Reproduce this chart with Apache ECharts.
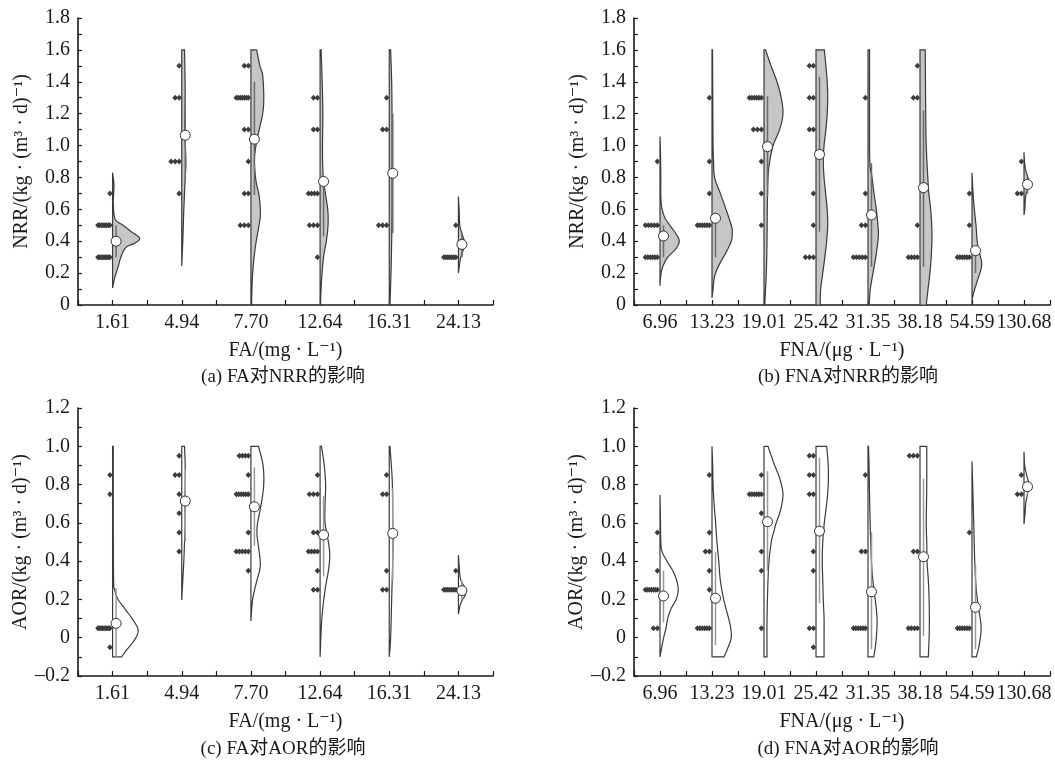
<!DOCTYPE html>
<html><head><meta charset="utf-8">
<script src="https://cdn.jsdelivr.net/npm/echarts@6/dist/echarts.min.js"></script>
<style>html,body{margin:0;padding:0;background:#fff}#c{width:1055px;height:763px}</style>
</head><body><div id="c"></div>
<script>
// ---------- categories ----------
const catsFA = ['1.61','4.94','7.70','12.64','16.31','24.13'];
const catsFNA = ['6.96','13.23','19.01','25.42','31.35','38.18','54.59','130.68'];

// ---------- panel (a): FA vs NRR ----------
// points: [category index, value, number of samples]
const ptsA = [[0,0.7,1],[0,0.5,8],[0,0.3,9],
  [1,1.5,1],[1,1.3,2],[1,0.9,3],[1,0.7,1],
  [2,1.5,2],[2,1.3,7],[2,1.1,2],[2,0.9,1],[2,0.7,2],[2,0.5,3],
  [3,1.3,2],[3,1.1,2],[3,0.7,4],[3,0.5,3],[3,0.3,1],
  [4,1.3,1],[4,1.1,2],[4,0.5,3],
  [5,0.5,1],[5,0.3,7]];
const meanA = [0.40, 1.065, 1.04, 0.775, 0.826, 0.38];
const rangeA = [[0.3,0.5],[0.8,1.3],[0.69,1.4],[0.43,0.74],[0.45,1.2],[0.3,0.45]];
// violin profiles: [value, half-width in category units], top to bottom
const violinA = [
  [[0.83,0],[0.75,0.02],[0.65,0.01],[0.57,0.02],[0.53,0.05],[0.5,0.15],[0.46,0.27],[0.42,0.39],[0.39,0.33],[0.36,0.19],[0.3,0.12],[0.24,0.08],[0.17,0.03],[0.107,0]],
  [[1.6,0.04],[1.5,0.045],[1.3,0.05],[1.1,0.045],[0.9,0.06],[0.8,0.05],[0.6,0.03],[0.4,0.015],[0.245,0]],
  [[1.6,0.083],[1.5,0.13],[1.44,0.17],[1.3,0.186],[1.2,0.17],[1.1,0.12],[1.0,0.073],[0.9,0.05],[0.78,0.073],[0.68,0.12],[0.57,0.137],[0.49,0.113],[0.36,0.063],[0.2,0.025],[0,0.008]],
  [[1.6,0.015],[1.4,0.03],[1.2,0.04],[1.0,0.035],[0.85,0.04],[0.75,0.06],[0.6,0.11],[0.5,0.115],[0.4,0.09],[0.3,0.05],[0.15,0.02],[0,0.005]],
  [[1.6,0.02],[1.4,0.035],[1.2,0.04],[1.0,0.04],[0.8,0.04],[0.6,0.04],[0.4,0.035],[0.2,0.025],[0,0.01]],
  [[0.68,0],[0.6,0.01],[0.5,0.02],[0.45,0.05],[0.4,0.085],[0.36,0.08],[0.32,0.05],[0.28,0.025],[0.2,0]]
];

// ---------- panel (b): FNA vs NRR ----------
const ptsB = [[0,0.9,1],[0,0.5,5],[0,0.3,6],
  [1,1.3,1],[1,0.9,1],[1,0.7,1],[1,0.5,6],
  [2,1.3,6],[2,1.1,3],[2,0.9,1],[2,0.7,1],[2,0.5,1],
  [3,1.5,2],[3,1.3,2],[3,1.1,2],[3,0.7,1],[3,0.5,1],[3,0.3,3],
  [4,1.3,1],[4,0.7,1],[4,0.5,2],[4,0.3,5],
  [5,1.5,1],[5,1.3,2],[5,0.5,1],[5,0.3,4],
  [6,0.7,1],[6,0.5,1],[6,0.3,6],
  [7,0.9,1],[7,0.7,2]];
const meanB = [0.433, 0.544, 0.993, 0.944, 0.565, 0.736, 0.341, 0.756];
const rangeB = [[0.3,0.5],[0.3,0.55],[0.68,1.31],[0.46,1.43],[0.24,0.89],[0.24,1.22],[0.2,0.33],[0.7,0.8]];
const violinB = [
  [[1.056,0],[0.95,0.01],[0.8,0.015],[0.7,0.015],[0.62,0.03],[0.55,0.09],[0.5,0.19],[0.45,0.3],[0.4,0.37],[0.35,0.3],[0.3,0.15],[0.25,0.065],[0.2,0.02],[0.121,0]],
  [[1.6,0.01],[1.3,0.015],[1.0,0.02],[0.9,0.03],[0.8,0.05],[0.7,0.16],[0.6,0.27],[0.5,0.37],[0.46,0.39],[0.4,0.37],[0.33,0.27],[0.25,0.135],[0.18,0.05],[0.1,0.02],[0.044,0]],
  [[1.6,0.03],[1.5,0.135],[1.4,0.25],[1.3,0.33],[1.2,0.365],[1.1,0.3],[1.0,0.175],[0.9,0.11],[0.8,0.077],[0.6,0.063],[0.4,0.058],[0.2,0.044],[0,0.013]],
  [[1.6,0.16],[1.5,0.19],[1.4,0.215],[1.3,0.225],[1.2,0.215],[1.1,0.19],[1.0,0.155],[0.9,0.14],[0.8,0.155],[0.7,0.185],[0.6,0.215],[0.5,0.225],[0.4,0.205],[0.3,0.17],[0.2,0.13],[0.1,0.09],[0,0.08]],
  [[1.6,0.03],[1.2,0.03],[0.9,0.035],[0.8,0.077],[0.7,0.115],[0.6,0.16],[0.5,0.19],[0.45,0.2],[0.4,0.19],[0.3,0.15],[0.2,0.095],[0.1,0.045],[0,0.02]],
  [[1.6,0.1],[1.4,0.105],[1.2,0.11],[1.0,0.12],[0.8,0.15],[0.7,0.17],[0.6,0.205],[0.45,0.23],[0.3,0.215],[0.2,0.19],[0.1,0.155],[0,0.12]],
  [[0.83,0],[0.7,0.02],[0.6,0.045],[0.5,0.077],[0.4,0.1],[0.33,0.14],[0.27,0.185],[0.22,0.17],[0.15,0.1],[0.08,0.035],[0.03,0]],
  [[0.958,0],[0.9,0.01],[0.85,0.03],[0.8,0.075],[0.76,0.11],[0.72,0.065],[0.68,0.03],[0.6,0.015],[0.565,0]]
];

// ---------- panel (c): FA vs AOR ----------
const ptsC = [[0,0.85,1],[0,0.75,1],[0,0.05,9],[0,-0.05,1],
  [1,0.95,1],[1,0.85,2],[1,0.75,1],[1,0.65,1],[1,0.55,1],[1,0.45,1],
  [2,0.95,4],[2,0.85,1],[2,0.75,6],[2,0.55,1],[2,0.45,5],[2,0.35,1],
  [3,0.85,1],[3,0.75,3],[3,0.55,2],[3,0.45,4],[3,0.35,1],[3,0.25,2],
  [4,0.85,1],[4,0.75,2],[4,0.35,1],[4,0.25,2],
  [5,0.35,1],[5,0.25,7]];
const meanC = [0.075, 0.714, 0.684, 0.537, 0.545, 0.246];
const rangeC = [[-0.1,0.26],[0.5,0.88],[0.48,0.89],[0.32,0.74],[0.3,0.78],[0.2,0.3]];
const violinC = [
  [[1.0,0.01],[0.6,0.01],[0.3,0.015],[0.25,0.03],[0.2,0.08],[0.15,0.18],[0.09,0.3],[0.04,0.37],[-0.01,0.32],[-0.065,0.2],[-0.1,0.13]],
  [[1.0,0.04],[0.9,0.05],[0.8,0.05],[0.7,0.045],[0.6,0.05],[0.5,0.04],[0.4,0.03],[0.3,0.015],[0.197,0]],
  [[1.0,0.11],[0.9,0.175],[0.8,0.185],[0.7,0.15],[0.6,0.097],[0.55,0.087],[0.5,0.1],[0.4,0.135],[0.35,0.125],[0.3,0.087],[0.2,0.025],[0.087,0]],
  [[1.0,0.02],[0.9,0.06],[0.8,0.08],[0.7,0.072],[0.6,0.072],[0.5,0.12],[0.43,0.14],[0.35,0.12],[0.25,0.072],[0.1,0.025],[-0.1,0]],
  [[1.0,0.01],[0.9,0.03],[0.8,0.045],[0.6,0.05],[0.5,0.055],[0.4,0.05],[0.2,0.035],[0,0.02],[-0.1,0]],
  [[0.432,0],[0.38,0.01],[0.33,0.02],[0.3,0.035],[0.27,0.08],[0.25,0.115],[0.22,0.095],[0.2,0.06],[0.17,0.025],[0.123,0]]
];

// ---------- panel (d): FNA vs AOR ----------
const ptsD = [[0,0.55,1],[0,0.35,1],[0,0.25,7],[0,0.05,2],
  [1,0.85,1],[1,0.55,1],[1,0.45,2],[1,0.35,1],[1,0.25,1],[1,0.05,6],
  [2,0.85,1],[2,0.75,6],[2,0.65,1],[2,0.45,1],[2,0.35,1],[2,0.05,1],
  [3,0.95,2],[3,0.85,2],[3,0.75,2],[3,0.45,1],[3,0.35,1],[3,0.05,2],[3,-0.05,1],
  [4,0.85,1],[4,0.45,2],[4,0.05,6],
  [5,0.95,3],[5,0.45,2],[5,0.05,4],
  [6,0.55,1],[6,0.05,6],
  [7,0.85,1],[7,0.75,2]];
const meanD = [0.218, 0.206, 0.606, 0.557, 0.24, 0.423, 0.159, 0.789];
const rangeD = [[0.08,0.35],[-0.04,0.45],[0.35,0.87],[0.18,0.94],[-0.06,0.55],[0.01,0.83],[-0.06,0.38],[0.75,0.82]];
const violinD = [
  [[0.745,0],[0.6,0.01],[0.5,0.015],[0.45,0.04],[0.4,0.135],[0.35,0.245],[0.3,0.32],[0.25,0.35],[0.2,0.31],[0.15,0.21],[0.1,0.148],[0.05,0.115],[0,0.07],[-0.05,0.033],[-0.1,0]],
  [[1.0,0],[0.9,0.013],[0.8,0.02],[0.7,0.04],[0.6,0.07],[0.5,0.095],[0.4,0.13],[0.3,0.16],[0.2,0.225],[0.1,0.32],[0.05,0.36],[0,0.37],[-0.05,0.31],[-0.1,0.23]],
  [[1.0,0.077],[0.95,0.14],[0.9,0.205],[0.85,0.28],[0.8,0.335],[0.75,0.365],[0.7,0.345],[0.65,0.3],[0.6,0.235],[0.55,0.185],[0.5,0.14],[0.4,0.096],[0.3,0.077],[0.1,0.058],[-0.1,0.058]],
  [[1.0,0.205],[0.9,0.235],[0.8,0.235],[0.7,0.205],[0.6,0.16],[0.5,0.13],[0.4,0.12],[0.3,0.13],[0.2,0.14],[0.1,0.155],[0,0.155],[-0.1,0.155]],
  [[1.0,0.01],[0.9,0.02],[0.7,0.033],[0.5,0.052],[0.35,0.077],[0.25,0.115],[0.15,0.16],[0.08,0.175],[0,0.16],[-0.05,0.14],[-0.1,0.11]],
  [[1.0,0.13],[0.8,0.13],[0.6,0.12],[0.5,0.13],[0.4,0.135],[0.3,0.16],[0.2,0.175],[0.1,0.18],[0,0.175],[-0.1,0.16]],
  [[0.92,0],[0.8,0.013],[0.6,0.033],[0.4,0.052],[0.25,0.083],[0.15,0.13],[0.06,0.175],[0,0.16],[-0.05,0.13],[-0.1,0.083]],
  [[0.972,0],[0.9,0.013],[0.85,0.05],[0.8,0.095],[0.75,0.065],[0.7,0.033],[0.65,0.02],[0.594,0]]
];

// ---------- drawing helpers ----------
const FF = '"Liberation Serif", "DejaVu Serif", "Noto Sans CJK SC", serif';
const TXT = '#1a1a1a';

function catmull(pts, seg) {
  const out = [];
  const n = pts.length;
  for (let i = 0; i < n - 1; i++) {
    const p0 = pts[Math.max(i - 1, 0)], p1 = pts[i], p2 = pts[i + 1], p3 = pts[Math.min(i + 2, n - 1)];
    for (let t = 0; t < seg; t++) {
      const s = t / seg, s2 = s * s, s3 = s2 * s;
      const f = k => 0.5 * (2 * p1[k] + (-p0[k] + p2[k]) * s + (2 * p0[k] - 5 * p1[k] + 4 * p2[k] - p3[k]) * s2 + (-p0[k] + 3 * p1[k] - 3 * p2[k] + p3[k]) * s3);
      out.push([f(0), f(1)]);
    }
  }
  out.push(pts[n - 1]);
  return out;
}

function violinRender(profiles, fill) {
  return function (params, api) {
    const i = api.value(0);
    const prof = profiles[params.dataIndex];
    const top = api.coord([i, prof[0][0]]);
    const bot = api.coord([i, prof[prof.length - 1][0]]);
    const cx = top[0];
    const right = prof.map(p => api.coord([i + p[1], p[0]]));
    const sm = catmull(right, 8).map(q => [Math.max(q[0], cx), q[1]]);
    return {
      type: 'polygon',
      shape: { points: [top].concat(sm, [bot]) },
      style: { fill: fill, stroke: '#3a3a3a', lineWidth: 1.2 }
    };
  };
}

function diamondRender(params, api) {
  const i = api.value(0), v = api.value(1), n = api.value(2);
  const c = api.coord([i, v]);
  const step = n <= 3 ? 4 : Math.min(3, 12 / (n - 1));
  const children = [];
  for (let k = n - 1; k >= 0; k--) {
    const x = c[0] - 2.6 - k * step, y = c[1];
    children.push({ type: 'polygon', shape: { points: [[x, y - 3], [x + 2.8, y], [x, y + 3], [x - 2.8, y]] }, style: { fill: '#3c3c3c' } });
  }
  return { type: 'group', children: children };
}

function rangeRender(color) {
  return function (params, api) {
    const i = api.value(0);
    const a = api.coord([i, api.value(1)]), b = api.coord([i, api.value(2)]);
    return { type: 'line', shape: { x1: a[0] + 3.5, y1: a[1], x2: b[0] + 3.5, y2: b[1] }, style: { stroke: color, lineWidth: 1.5 } };
  };
}

function meanRender(params, api) {
  const c = api.coord([api.value(0), api.value(1)]);
  return { type: 'circle', shape: { cx: c[0] + 3.5, cy: c[1], r: 5 }, style: { fill: '#fff', stroke: '#333', lineWidth: 1 } };
}

function xAxisOf(gi, cats, name) {
  return {
    type: 'value', gridIndex: gi, min: -0.5, max: cats.length - 0.5, interval: 0.5,
    axisLine: { show: true, onZero: false, lineStyle: { color: TXT, width: 1.6 } },
    axisTick: { show: true, inside: true, length: 5, lineStyle: { color: TXT, width: 1.2 } },
    axisLabel: { margin: 8, color: TXT, fontSize: 20, fontFamily: FF,
      formatter: v => Number.isInteger(v) ? cats[v] : '' },
    splitLine: { show: false },
    name: name, nameLocation: 'middle', nameGap: 36,
    nameTextStyle: { color: TXT, fontSize: 20, fontFamily: FF }
  };
}
function yAxisOf(gi, min, max, name) {
  return {
    type: 'value', gridIndex: gi, min: min, max: max, interval: 0.2,
    axisLine: { show: true, onZero: false, lineStyle: { color: TXT, width: 1.6 } },
    axisTick: { show: true, inside: true, length: 4, lineStyle: { color: TXT, width: 1.2 } },
    minorTick: { show: true, splitNumber: 2, length: 4, lineStyle: { color: TXT, width: 1.2 } },
    axisLabel: { margin: 8, color: TXT, fontSize: 20, fontFamily: FF,
      formatter: v => Math.abs(v) < 1e-9 ? '0' : (v < 0 ? '\u2013' : '') + Math.abs(v).toFixed(1) },
    splitLine: { show: false }, minorSplitLine: { show: false },
    name: name, nameLocation: 'middle', nameGap: 46,
    nameTextStyle: { color: TXT, fontSize: 20, fontFamily: FF }
  };
}

function panelSeries(gi, pts, means, ranges, violins, fill, rangeColor) {
  const base = { type: 'custom', coordinateSystem: 'cartesian2d', xAxisIndex: gi, yAxisIndex: gi, silent: true, clip: false };
  return [
    Object.assign({}, base, { renderItem: violinRender(violins, fill), data: violins.map((p, i) => [i, p[0][0]]) }),
    Object.assign({}, base, { renderItem: rangeRender(rangeColor), data: ranges.map((r, i) => [i, r[0], r[1]]) }),
    Object.assign({}, base, { renderItem: diamondRender, data: pts }),
    Object.assign({}, base, { renderItem: meanRender, data: means.map((m, i) => [i, m]) })
  ];
}

const nameNRR = 'NRR/(kg \u00b7 (m\u00b3 \u00b7 d)\u207b\u00b9)';
const nameAOR = 'AOR/(kg \u00b7 (m\u00b3 \u00b7 d)\u207b\u00b9)';
const nameFA = 'FA/(mg \u00b7 L\u207b\u00b9)';
const nameFNA = 'FNA/(\u03bcg \u00b7 L\u207b\u00b9)';

function sub(text, x, y) {
  return { type: 'text', x: x, y: y, style: { text: text, fontSize: 19, fontFamily: FF, fill: TXT,
    align: 'center', verticalAlign: 'middle', textAlign: 'center', textVerticalAlign: 'middle' } };
}

const option = {
  animation: false,
  backgroundColor: '#fff',
  grid: [
    { left: 78, top: 18, width: 415, height: 287 },
    { left: 634, top: 18, width: 416, height: 287 },
    { left: 78, top: 408, width: 415, height: 268 },
    { left: 634, top: 408, width: 416, height: 268 }
  ],
  xAxis: [xAxisOf(0, catsFA, nameFA), xAxisOf(1, catsFNA, nameFNA), xAxisOf(2, catsFA, nameFA), xAxisOf(3, catsFNA, nameFNA)],
  yAxis: [yAxisOf(0, 0, 1.8, nameNRR), yAxisOf(1, 0, 1.8, nameNRR), yAxisOf(2, -0.2, 1.2, nameAOR), yAxisOf(3, -0.2, 1.2, nameAOR)],
  series: [].concat(
    panelSeries(0, ptsA, meanA, rangeA, violinA, '#c6c6c6', '#6a6a6a'),
    panelSeries(1, ptsB, meanB, rangeB, violinB, '#c6c6c6', '#6a6a6a'),
    panelSeries(2, ptsC, meanC, rangeC, violinC, '#ffffff', '#9a9a9a'),
    panelSeries(3, ptsD, meanD, rangeD, violinD, '#ffffff', '#9a9a9a')
  ),
  graphic: [
    sub('(a) FA对NRR的影响', 283, 377),
    sub('(b) FNA对NRR的影响', 848, 377),
    sub('(c) FA对AOR的影响', 283, 749),
    sub('(d) FNA对AOR的影响', 848, 749)
  ]
};

const chart = echarts.init(document.getElementById('c'), null, { renderer: 'canvas' });
chart.setOption(option);
</script>
</body></html>
